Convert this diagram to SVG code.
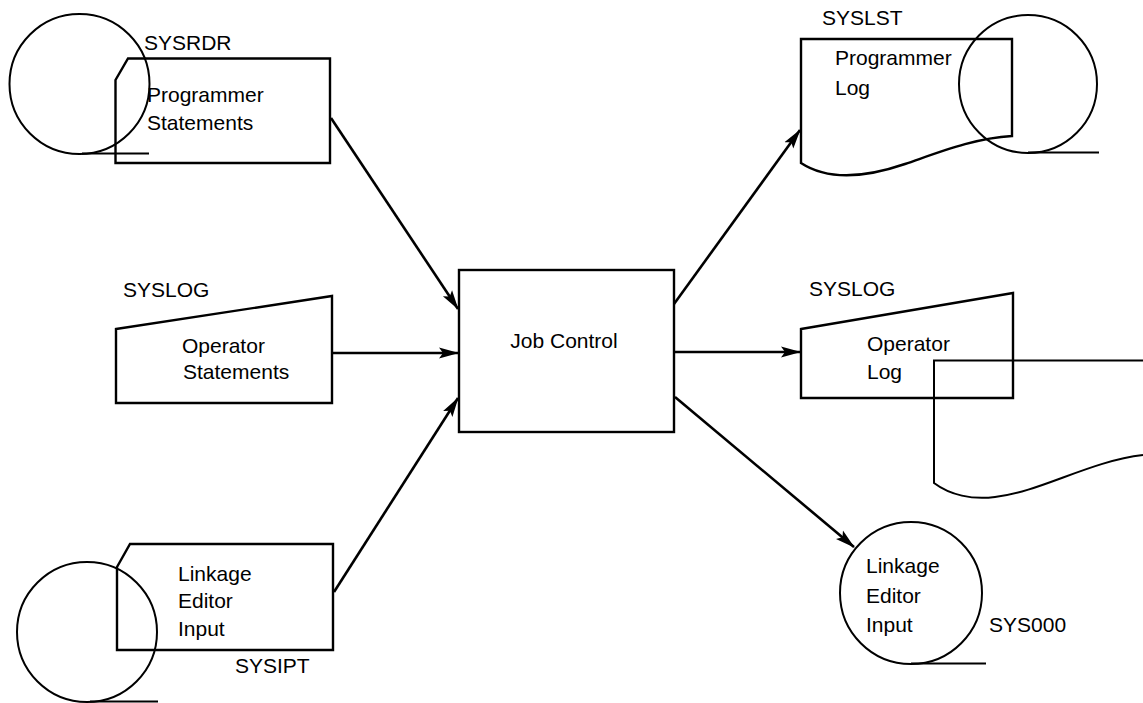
<svg xmlns="http://www.w3.org/2000/svg" width="1143" height="703" viewBox="0 0 1143 703">
  <style>
    .shape { fill: none; stroke: #000; stroke-width: 2.4; stroke-linejoin: miter; }
    .reel { fill: none; stroke: #000; stroke-width: 2; }
    .flow { fill: none; stroke: #000; stroke-width: 2.6; }
    .lbl { font-family: "Liberation Sans", Arial, sans-serif; font-size: 21px; fill: #000; }
  </style>
  <defs>
    <marker id="arrow" markerUnits="userSpaceOnUse" markerWidth="20" markerHeight="12" viewBox="0 0 20 12" refX="19" refY="6" orient="auto">
      <path d="M0,0.5 L20,6 L0,11.5 L4,6 z" fill="#000"/>
    </marker>
  </defs>

  <rect width="1143" height="703" fill="#fff"/>

  <!-- SYSRDR: card reader input on tape -->
  <g id="sysrdr">
    <circle class="reel" cx="79.5" cy="84" r="70"/>
    <line class="reel" x1="82" y1="153.5" x2="149" y2="153.5"/>
    <path class="shape" d="M128,58.5 H330 V163 H115.5 V80 Z"/>
    <text class="lbl" x="144" y="50">SYSRDR</text>
    <text class="lbl" x="147" y="102">Programmer</text>
    <text class="lbl" x="147" y="130">Statements</text>
  </g>

  <!-- SYSLOG: console input -->
  <g id="syslog-in">
    <path class="shape" d="M116,329 L332,296 V403 H116 Z"/>
    <text class="lbl" x="123" y="297">SYSLOG</text>
    <text class="lbl" x="182" y="353">Operator</text>
    <text class="lbl" x="183" y="379">Statements</text>
  </g>

  <!-- SYSIPT: card input on tape -->
  <g id="sysipt">
    <circle class="reel" cx="87" cy="632" r="70"/>
    <line class="reel" x1="90" y1="701.5" x2="158" y2="701.5"/>
    <path class="shape" d="M130,544 H333 V650 H117 V567 Z"/>
    <text class="lbl" x="178" y="581">Linkage</text>
    <text class="lbl" x="178" y="608">Editor</text>
    <text class="lbl" x="178" y="636">Input</text>
    <text class="lbl" x="235" y="673">SYSIPT</text>
  </g>

  <!-- Job Control process -->
  <g id="job-control">
    <rect class="shape" x="459" y="270" width="215" height="162"/>
    <text class="lbl" x="564" y="348" text-anchor="middle">Job Control</text>
  </g>

  <!-- SYSLST: printed listing on tape -->
  <g id="syslst">
    <circle class="reel" cx="1028" cy="84" r="69"/>
    <line class="reel" x1="1028" y1="152.5" x2="1099" y2="152.5"/>
    <path class="shape" d="M801,163 V39 H1012 V136 C975,138 940,152 905,164 C870,176 830,182 801,163 Z"/>
    <text class="lbl" x="822" y="25">SYSLST</text>
    <text class="lbl" x="835" y="65">Programmer</text>
    <text class="lbl" x="835" y="95">Log</text>
  </g>

  <!-- SYSLOG: console output with printed log -->
  <g id="syslog-out">
    <path class="shape" d="M801,329 L1013,293 V398 H801 Z"/>
    <path class="reel" d="M1143,360.5 H934 V483 C950,495 972,500 995,497 C1040,492 1090,461 1143,455"/>
    <text class="lbl" x="809" y="296">SYSLOG</text>
    <text class="lbl" x="867" y="351">Operator</text>
    <text class="lbl" x="867" y="379">Log</text>
  </g>

  <!-- SYS000: tape output -->
  <g id="sys000">
    <circle class="reel" cx="911" cy="593" r="71"/>
    <line class="reel" x1="911" y1="663.5" x2="986" y2="663.5"/>
    <text class="lbl" x="866" y="573">Linkage</text>
    <text class="lbl" x="866" y="603">Editor</text>
    <text class="lbl" x="866" y="632">Input</text>
    <text class="lbl" x="989" y="632">SYS000</text>
  </g>

  <!-- Data flow -->
  <g id="connectors">
    <line class="flow" x1="331" y1="118" x2="458" y2="309" marker-end="url(#arrow)"/>
    <line class="flow" x1="333" y1="353" x2="458" y2="353" marker-end="url(#arrow)"/>
    <line class="flow" x1="334" y1="592" x2="458" y2="398" marker-end="url(#arrow)"/>
    <line class="flow" x1="674" y1="304" x2="800" y2="130" marker-end="url(#arrow)"/>
    <line class="flow" x1="675" y1="352" x2="800" y2="352" marker-end="url(#arrow)"/>
    <line class="flow" x1="675" y1="397" x2="854" y2="547" marker-end="url(#arrow)"/>
  </g>
</svg>
